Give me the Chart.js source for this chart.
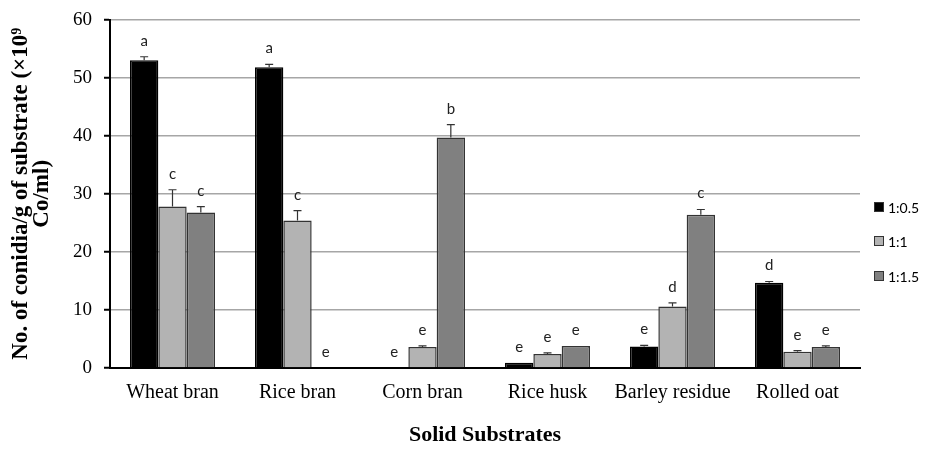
<!DOCTYPE html>
<html>
<head>
<meta charset="utf-8">
<script src="https://cdn.jsdelivr.net/npm/chart.js@4"></script>
<style>
  html, body { margin: 0; padding: 0; background: #fff; }
  #wrap { width: 930px; height: 449px; position: relative; }
</style>
</head>
<body>
<div id="wrap"><canvas id="chart"></canvas></div>
<script>
const categories = ['Wheat bran', 'Rice bran', 'Corn bran', 'Rice husk', 'Barley residue', 'Rolled oat'];
const seriesNames = ['1:0.5', '1:1', '1:1.5'];

// mean values (x10^9 conidia/g)
const ratio05 = [53.0, 51.8, 0, 0.9, 3.7, 14.7];
const ratio1 = [27.8, 25.4, 3.6, 2.4, 10.6, 2.8];
const ratio15 = [26.8, 0, 39.7, 3.8, 26.4, 3.6];

// error bar heights
const err05 = [0.6, 0.5, 0, 0, 0.2, 0.2];
const err1 = [2.9, 1.7, 0.2, 0.2, 0.6, 0.2];
const err15 = [1.0, 0, 2.2, 0, 0.9, 0.2];

// significance letters
const letters05 = ['a', 'a', 'e', 'e', 'e', 'd'];
const letters1 = ['c', 'c', 'e', 'e', 'd', 'e'];
const letters15 = ['c', 'e', 'b', 'e', 'c', 'e'];

const yTicks = [0, 10, 20, 30, 40, 50, 60];

const colors = ['#000000', '#b3b3b3', '#808080'];
const errs = [err05, err1, err15];
const letters = [letters05, letters1, letters15];

// error bars + letters above each bar
const errorBarPlugin = {
  id: 'errorBars',
  afterDatasetsDraw(chart) {
    const ctx = chart.ctx;
    const y = chart.scales.y;
    chart.data.datasets.forEach((ds, di) => {
      const meta = chart.getDatasetMeta(di);
      meta.data.forEach((bar, i) => {
        const v = ds.data[i];
        const e = errs[di][i];
        const top = y.getPixelForValue(v + e);
        ctx.save();
        if (e > 0) {
          ctx.strokeStyle = '#333';
          ctx.lineWidth = 1.2;
          ctx.beginPath();
          ctx.moveTo(bar.x, bar.y);
          ctx.lineTo(bar.x, top);
          ctx.moveTo(bar.x - 4, top);
          ctx.lineTo(bar.x + 4, top);
          ctx.stroke();
        }
        ctx.fillStyle = '#222';
        ctx.font = '15px Lato';
        ctx.textAlign = 'center';
        ctx.textBaseline = 'alphabetic';
        ctx.fillText(letters[di][i], bar.x, top - 11);
        ctx.restore();
      });
    });
  }
};

// legend on the right, drawn by hand
const legendPlugin = {
  id: 'sideLegend',
  afterDraw(chart) {
    const ctx = chart.ctx;
    const ys = [207, 241, 276];
    ctx.save();
    seriesNames.forEach((name, i) => {
      ctx.fillStyle = colors[i];
      ctx.fillRect(874, ys[i] - 5, 10, 10);
      ctx.strokeStyle = '#333';
      ctx.lineWidth = 1;
      ctx.strokeRect(874.5, ys[i] - 4.5, 9, 9);
      ctx.fillStyle = '#000';
      ctx.font = '14px Lato';
      ctx.textAlign = 'left';
      ctx.textBaseline = 'middle';
      ctx.fillText(name, 888, ys[i] + 1);
    });
    ctx.restore();
  }
};

new Chart(document.getElementById('chart'), {
  type: 'bar',
  data: {
    labels: categories,
    datasets: [ratio05, ratio1, ratio15].map((d, i) => ({
      label: seriesNames[i],
      data: d,
      backgroundColor: colors[i],
      borderColor: i === 0 ? '#000' : '#333',
      borderWidth: 1.5,
      barPercentage: 1,
      categoryPercentage: 0.68
    }))
  },
  options: {
    responsive: true,
    maintainAspectRatio: false,
    animation: false,
    layout: { padding: { top: 19, right: 70, left: 0, bottom: 0 } },
    plugins: {
      legend: { display: false },
      tooltip: { enabled: false }
    },
    scales: {
      x: {
        grid: { display: false, drawTicks: false },
        border: { color: '#000', width: 2 },
        ticks: {
          color: '#000',
          font: { family: 'Liberation Serif', size: 20 },
          padding: 13,
          maxRotation: 0
        },
        title: {
          display: true,
          text: 'Solid Substrates',
          color: '#000',
          font: { family: 'Liberation Serif', size: 22, weight: 'bold' },
          padding: { top: 23, bottom: 0 }
        },
        afterFit(scale) { scale.height = 81; }
      },
      y: {
        min: 0,
        max: 60,
        afterBuildTicks(scale) { scale.ticks = yTicks.map(v => ({ value: v })); },
        grid: {
          color: '#a6a6a6',
          lineWidth: 1.5,
          drawTicks: true,
          tickLength: 6,
          tickColor: '#000',
          tickWidth: 2
        },
        border: { color: '#000', width: 2 },
        ticks: {
          color: '#000',
          font: { family: 'Liberation Serif', size: 19, lineHeight: 0.8 },
          padding: 12
        },
        title: {
          display: true,
          text: ['No. of conidia/g of substrate (×10⁹', 'Co/ml)'],
          color: '#000',
          font: { family: 'Liberation Serif', size: 23, weight: 'bold', lineHeight: 0.9 },
          padding: { top: 11, bottom: 0 }
        },
        afterFit(scale) { scale.width = 110; }
      }
    }
  },
  plugins: [errorBarPlugin, legendPlugin]
});
</script>
</body>
</html>
